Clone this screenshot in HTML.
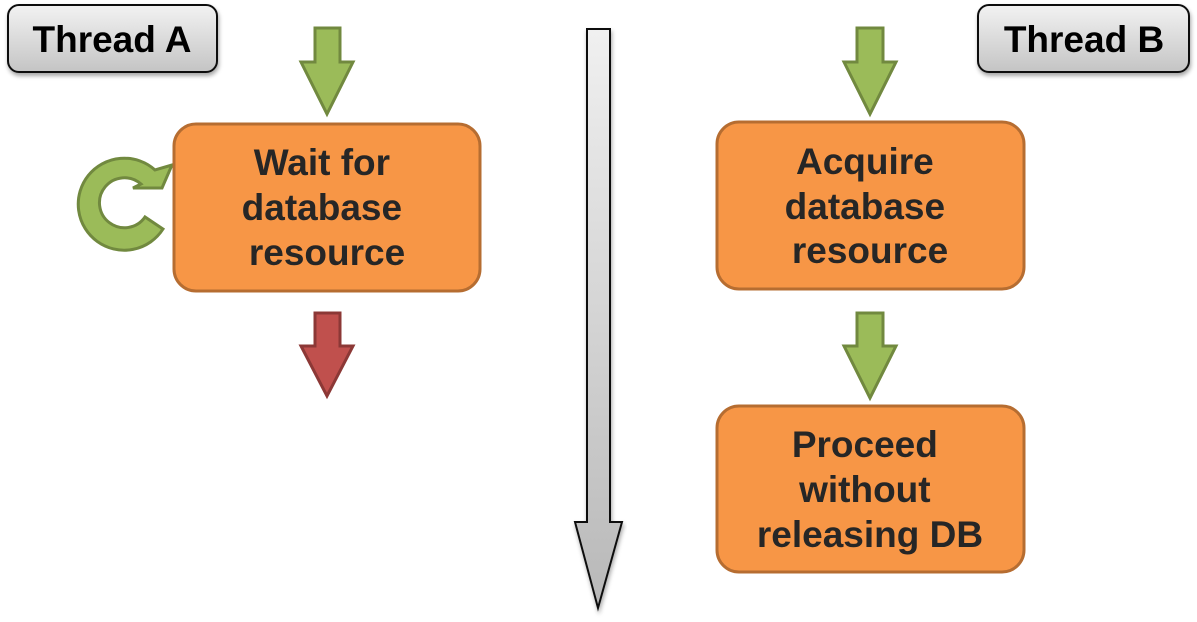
<!DOCTYPE html>
<html><head><meta charset="utf-8"><style>
html,body{margin:0;padding:0;background:#fff;}
svg{display:block;}
text{font-family:"Liberation Sans",Arial,sans-serif;font-weight:bold;}
</style></head><body>
<svg width="1197" height="622" viewBox="0 0 1197 622" xmlns="http://www.w3.org/2000/svg">
<defs>
<linearGradient id="gb" x1="0" y1="0" x2="0" y2="1">
<stop offset="0" stop-color="#f2f2f2"/><stop offset="1" stop-color="#c4c4c4"/>
</linearGradient>
<linearGradient id="gt" x1="0" y1="0" x2="0" y2="1">
<stop offset="0" stop-color="#f0f0f0"/><stop offset="1" stop-color="#b8b8b8"/>
</linearGradient>
<filter id="sh" x="-10%" y="-10%" width="120%" height="140%">
<feDropShadow dx="1" dy="3" stdDeviation="2" flood-color="#000" flood-opacity="0.35"/>
</filter>
</defs>

<rect x="8" y="5" width="209" height="67" rx="11" fill="url(#gb)" stroke="#111" stroke-width="2" filter="url(#sh)"/>
<text x="112" y="52" font-size="37" fill="#000" text-anchor="middle">Thread A</text>
<rect x="978" y="5" width="211" height="67" rx="11" fill="url(#gb)" stroke="#111" stroke-width="2" filter="url(#sh)"/>
<text x="1084" y="52" font-size="37" fill="#000" text-anchor="middle">Thread B</text>

<path d="M587,29 L610,29 L610,522 L622,522 L598,608 L575,522 L587,522 Z" fill="url(#gt)" stroke="#111" stroke-width="2" filter="url(#sh)"/>

<path d="M315,28 L340,28 L340,62 L353,62 L327,114 L301,62 L315,62 Z" fill="#9bbb59" stroke="#71893f" stroke-width="3"/>
<path d="M857,28 L883,28 L883,62 L896,62 L870,114 L844,62 L857,62 Z" fill="#9bbb59" stroke="#71893f" stroke-width="3"/>
<path d="M857,313 L883,313 L883,346 L896,346 L870,398 L844,346 L857,346 Z" fill="#9bbb59" stroke="#71893f" stroke-width="3"/>
<path d="M315,313 L340,313 L340,346 L353,346 L327,396 L301,346 L315,346 Z" fill="#c0504d" stroke="#8c3836" stroke-width="3"/>

<path d="M163,229 A46,46 0 1 1 155,170 L172,165 L162,188 L133,188 L141,184 A25,25 0 1 0 145,217 Z" fill="#9bbb59" stroke="#71893f" stroke-width="3"/>

<rect x="174" y="124" width="306" height="167" rx="22" fill="#f79646" stroke="#b66d31" stroke-width="3"/>
<text font-size="37" fill="#262626" text-anchor="middle">
<tspan x="327" y="175">Wait for</tspan>
<tspan x="327" y="220">database</tspan>
<tspan x="327" y="265">resource</tspan>
</text>
<rect x="717" y="122" width="307" height="167" rx="22" fill="#f79646" stroke="#b66d31" stroke-width="3"/>
<text font-size="37" fill="#262626" text-anchor="middle">
<tspan x="870" y="174">Acquire</tspan>
<tspan x="870" y="219">database</tspan>
<tspan x="870" y="263">resource</tspan>
</text>
<rect x="717" y="406" width="307" height="166" rx="22" fill="#f79646" stroke="#b66d31" stroke-width="3"/>
<text font-size="37" fill="#262626" text-anchor="middle">
<tspan x="870" y="457">Proceed</tspan>
<tspan x="870" y="502">without</tspan>
<tspan x="870" y="547">releasing DB</tspan>
</text>
</svg>
</body></html>
